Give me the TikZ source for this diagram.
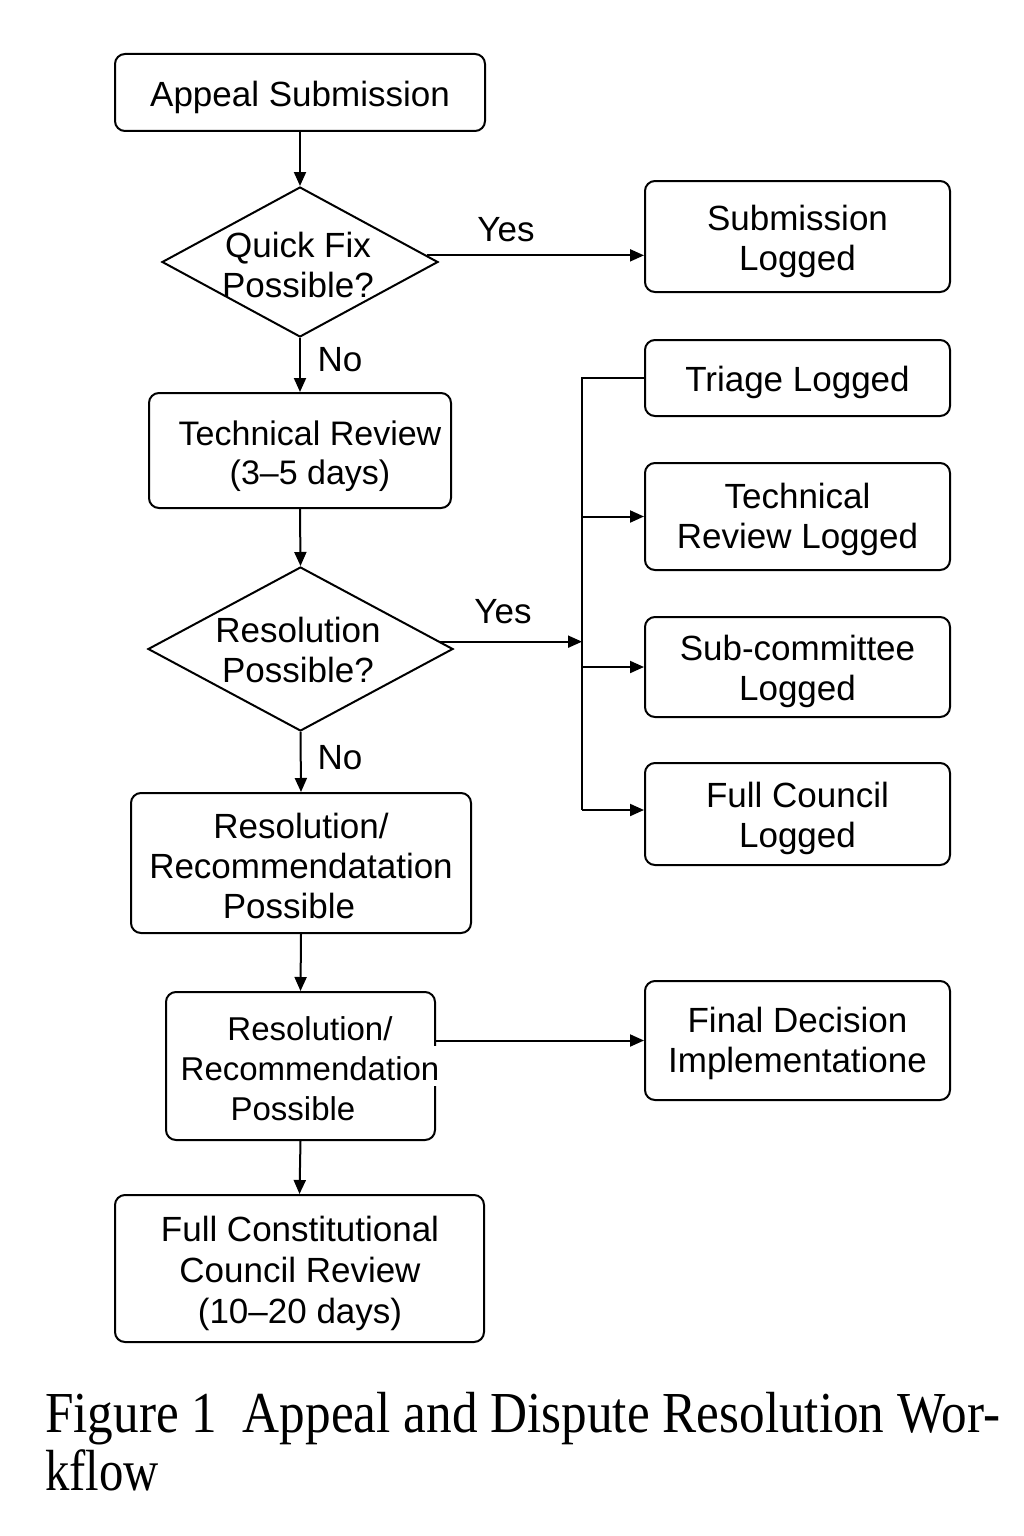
\documentclass[tikz,border=0pt]{standalone}
\usepackage{fontspec}
\setmainfont{Liberation Sans}
\newfontfamily\capfont{Liberation Serif}
\usetikzlibrary{shapes.geometric,arrows.meta}
\begin{document}
\begin{tikzpicture}[x=1pt,y=-1pt,
  box/.style={draw, line width=2pt, rounded corners=10pt, inner sep=0pt},
  dia/.style={draw, diamond, line width=2pt, inner sep=0pt},
  txt/.style={inner sep=0pt, align=center, font=\fontsize{35}{40}\selectfont},
  conn/.style={line width=2pt},
  arr/.style={line width=2pt, -{Triangle[length=14pt,width=12pt]}}]
\useasboundingbox (0,0) rectangle (1024,1536);
% left column
\node[box, minimum width=370, minimum height=77] (app) at (300,92.5) {};
\node[txt] (appt) at (300,97) {Appeal Submission};
\node[dia, minimum width=276, minimum height=150] (d1) at (300,262) {};
\node[txt] (d1t) at (298,265) {Quick Fix\\Possible?};
\node[box, minimum width=302, minimum height=115] (tr) at (300,450.5) {};
\node[txt, font=\fontsize{34}{39}\selectfont] (trt) at (310,456) {Technical Review\\(3–5 days)};
\node[dia, minimum width=305, minimum height=164] (d2) at (300.5,649) {};
\node[txt] (d2t) at (298,650) {Resolution\\Possible?};
\node[box, minimum width=340, minimum height=140] (r1) at (301,863) {};
\node[txt] (r1t) at (301,866) {Resolution/\\Recommendatation\\Possible\hspace*{24pt}};
\node[box, minimum width=269, minimum height=148] (r2) at (300.5,1066) {};
\fill[white] (432,1046) rectangle (438,1086);
\node[txt, font=\fontsize{33}{40}\selectfont] (r2t) at (310,1069) {Resolution/\\Recommendation\\Possible\hspace*{34pt}};
\node[box, minimum width=369, minimum height=147] (fc) at (299.5,1268.5) {};
\node[txt, font=\fontsize{35}{41}\selectfont] (fct) at (300,1273) {Full Constitutional\\Council Review\\(10–20 days)};
% right column
\node[box, minimum width=305, minimum height=111] (sl) at (797.5,236.5) {};
\node[txt] (slt) at (797.5,241) {Submission\\Logged};
\node[box, minimum width=305, minimum height=76] (tl) at (797.5,378) {};
\node[txt] (tlt) at (797.5,382) {Triage Logged};
\node[box, minimum width=305, minimum height=107] (trl) at (797.5,516.5) {};
\node[txt] (trlt) at (797.5,519) {Technical\\Review Logged};
\node[box, minimum width=305, minimum height=100] (scl) at (797.5,667) {};
\node[txt] (sclt) at (797.5,671) {Sub-committee\\Logged};
\node[box, minimum width=305, minimum height=102] (fcl) at (797.5,814) {};
\node[txt] (fclt) at (797.5,818) {Full Council\\Logged};
\node[box, minimum width=305, minimum height=119] (fd) at (797.5,1040.5) {};
\node[txt] (fdt) at (797.5,1043) {Final Decision\\Implementatione};
% bus
\coordinate (bus) at (582,641);
\coordinate (bbot) at (582,810);
% connectors
\draw[arr] (app.south) -- (d1.north);
\draw[arr] (d1.3.2) -- (d1.3.2 -| sl.west);
\node[txt] (yes1) at (506,230) {Yes};
\draw[arr] (d1.south) -- (tr.north);
\node[txt] (no1) at (340,360) {No};
\draw[arr] (tr.south) -- (d2.north);
\draw[arr] (d2.3.3) -- (d2.3.3 -| bus);
\node[txt] (yes2) at (503,612) {Yes};
\draw[arr] (d2.south) -- (r1.north);
\node[txt] (no2) at (340,758) {No};
\draw[arr] (r1.south) -- (r2.north);
\draw[arr] (r2.south) -- (fc.north);
\draw[conn] (tl.west) -- (tl.west -| bus) -- (bbot);
\draw[arr] (trl.west -| bus) -- (trl.west);
\draw[arr] (scl.west -| bus) -- (scl.west);
\draw[arr] (bbot) -- (bbot -| fcl.west);
\draw[arr] (r2.east |- fd.west) -- (fd.west);
% caption
\node[anchor=base west, inner sep=0pt, font=\capfont\fontsize{58}{60}\selectfont] (cap1) at (45,1432) {\resizebox{955pt}{\height}{Figure 1\ \ Appeal and Dispute Resolution Wor-}};
\node[anchor=base west, inner sep=0pt, font=\capfont\fontsize{58}{60}\selectfont] (cap2) at (45,1490) {\scalebox{0.84}[1]{kflow}};
\end{tikzpicture}
\end{document}
